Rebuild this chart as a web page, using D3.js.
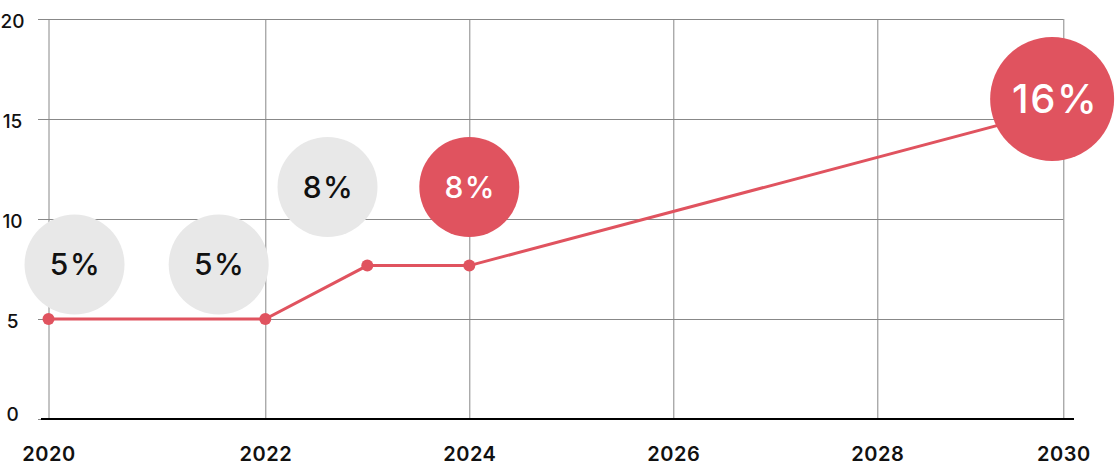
<!DOCTYPE html>
<html>
<head>
<meta charset="utf-8">
<script src="https://cdn.jsdelivr.net/npm/d3@7"></script>
<style>
  body { margin: 0; background: #fff; }
  svg { display: block; font-family: Inter, "Noto Sans", sans-serif; }
</style>
</head>
<body>
<svg width="1120" height="474"></svg>
<script>
// line data
var years = [2020, 2022, 2023, 2024, 2030];
var values = [5, 5, 7.67, 7.67, 15.55];

// bubble annotations (year, value they sit on, label)
var bubbleYears = [2020.24, 2021.57, 2022.61, 2024, 2029.88];
var bubbleValues = [7.72, 7.72, 11.6, 11.6, 16];
var bubbleLabels = ["5%", "5%", "8%", "8%", "16%"];
var bubbleHighlight = [false, false, false, true, true];

var xTicks = [2020, 2022, 2024, 2026, 2028, 2030];
var yTicks = [0, 5, 10, 15, 20];

var red = "#e0535f";
var grey = "#e8e8e8";
var gridColor = "#888";

var svg = d3.select("svg");

var x = d3.scaleLinear()
  .domain([2020, 2022, 2028, 2030])
  .range([48.5, 265.3, 877.3, 1063.3]);

var y = d3.scaleLinear()
  .domain([0, 20])
  .range([419, 19]);

var gridLeft = 38;

// horizontal grid + y labels
var gy = svg.append("g")
  .attr("transform", "translate(" + gridLeft + ",0)")
  .call(d3.axisLeft(y).tickValues(yTicks).tickSize(-(x(2030) - gridLeft)).tickPadding(0));
gy.select(".domain").remove();
gy.selectAll(".tick line").attr("stroke", gridColor).attr("stroke-width", 1);
gy.selectAll(".tick text")
  .attr("x", 12.5 - gridLeft)
  .attr("dy", null)
  .attr("y", function(d) { return d == 0 ? 1.5 : 8; })
  .attr("text-anchor", "middle")
  .attr("fill", "#111")
  .style("font-family", "Inter")
  .style("font-size", "19px")
  .style("font-weight", 500);

// vertical grid + x labels
var gx = svg.append("g")
  .attr("transform", "translate(0," + y(0) + ")")
  .call(d3.axisBottom(x).tickValues(xTicks).tickSize(-(y(0) - y(20))).tickFormat(d3.format("d")));
gx.select(".domain").remove();
gx.selectAll(".tick line").attr("stroke", gridColor).attr("stroke-width", 1);
gx.selectAll(".tick text")
  .attr("y", 42)
  .attr("dy", null)
  .attr("fill", "#111")
  .style("font-family", "Inter")
  .style("font-size", "20px")
  .style("font-weight", 600)
  .style("letter-spacing", "0.5px");

// baseline
svg.append("line")
  .attr("x1", x(2020) - 7.5)
  .attr("x2", x(2030) + 10.7)
  .attr("y1", y(0))
  .attr("y2", y(0))
  .attr("stroke", "#000")
  .attr("stroke-width", 2);

var pts = years.map(function(d, i) { return [d, values[i]]; });

svg.append("path")
  .datum(pts)
  .attr("fill", "none")
  .attr("stroke", red)
  .attr("stroke-width", 3)
  .attr("d", d3.line().x(function(d) { return x(d[0]); }).y(function(d) { return y(d[1]); }));

svg.selectAll(".dot")
  .data(pts)
  .enter().append("circle")
  .attr("class", "dot")
  .attr("cx", function(d) { return x(d[0]); })
  .attr("cy", function(d) { return y(d[1]); })
  .attr("r", 6)
  .attr("fill", red);

var bubbles = bubbleLabels.map(function(l, i) {
  return { label: l, year: bubbleYears[i], value: bubbleValues[i], hi: bubbleHighlight[i], big: i == bubbleLabels.length - 1 };
});

var b = svg.selectAll(".bubble")
  .data(bubbles)
  .enter().append("g")
  .attr("class", "bubble")
  .attr("transform", function(d) { return "translate(" + x(d.year) + "," + y(d.value) + ")"; });

b.append("circle")
  .attr("r", function(d) { return d.big ? 62 : 50; })
  .attr("fill", function(d) { return d.hi ? red : grey; });

b.append("text")
  .attr("text-anchor", "middle")
  .attr("x", function(d) { return d.big ? 3 : 1; })
  .attr("dy", "0.36em")
  .attr("fill", function(d) { return d.hi ? "#fff" : "#111"; })
  .style("font-family", "Inter")
  .style("font-size", function(d) { return d.big ? "40px" : "30px"; })
  .style("font-weight", 500)
  .style("letter-spacing", "1.5px")
  .text(function(d) { return d.label; });
</script>
</body>
</html>
